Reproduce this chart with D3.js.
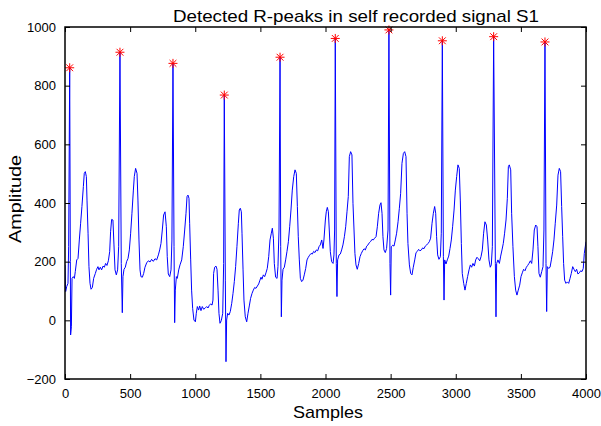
<!DOCTYPE html>
<html>
<head>
<meta charset="utf-8">
<script src="https://cdn.jsdelivr.net/npm/d3@7"></script>
<style>
  body { margin: 0; background: #fff; }
  text { font-family: "Liberation Sans", Arial, sans-serif; fill: #000; }
</style>
</head>
<body>
<svg id="chart" width="601" height="426"></svg>
<script>
// ECG trace, [sample, amplitude]
var signal = [
  [0,189],[5,98],[13,115],[23,126],[28,251],[36,861],[41,200],[43,-50],[49,-22],[54,143],
  [64,149],[72,143],[79,166],[90,206],[100,211],[110,274],[120,331],[130,388],[141,456],[148,501],
  [156,507],[164,490],[169,410],[177,297],[184,183],[192,126],[200,106],[210,112],[220,143],[233,160],
  [243,174],[253,183],[261,172],[271,181],[281,172],[292,185],[302,181],[312,194],[322,187],[333,203],
  [343,234],[350,302],[358,344],[368,342],[376,257],[384,172],[394,155],[404,172],[412,251],[422,914],
  [432,194],[440,26],[445,149],[453,174],[463,181],[473,200],[484,211],[494,240],[504,297],[514,365],
  [525,444],[532,490],[542,518],[553,501],[560,410],[568,274],[576,172],[583,149],[594,147],[604,160],
  [614,181],[627,196],[640,203],[653,199],[665,208],[678,201],[691,210],[704,206],[717,223],[727,240],
  [737,262],[747,308],[757,359],[768,370],[778,319],[785,217],[793,158],[804,149],[814,172],[821,274],
  [829,876],[837,251],[842,-8],[847,103],[855,149],[862,143],[873,172],[883,189],[896,206],[908,251],
  [919,308],[929,365],[937,422],[944,427],[952,416],[957,331],[965,206],[972,103],[980,41],[990,1],
  [1001,-5],[1008,24],[1016,47],[1026,35],[1034,49],[1044,33],[1054,47],[1064,38],[1075,41],[1088,47],
  [1098,42],[1108,51],[1118,56],[1129,52],[1136,69],[1141,160],[1149,181],[1159,185],[1167,174],[1175,103],
  [1182,24],[1190,-10],[1200,-1],[1211,24],[1218,194],[1223,768],[1231,137],[1236,-141],[1241,1],[1249,24],
  [1259,18],[1269,30],[1280,58],[1290,92],[1300,132],[1310,183],[1320,251],[1331,331],[1338,376],[1346,382],
  [1354,370],[1359,297],[1367,172],[1374,69],[1384,12],[1395,-5],[1405,24],[1415,49],[1425,75],[1436,92],
  [1446,103],[1456,112],[1466,109],[1477,117],[1487,124],[1497,137],[1505,147],[1512,140],[1523,155],[1533,149],
  [1543,162],[1553,177],[1564,217],[1574,274],[1584,297],[1592,314],[1600,280],[1607,194],[1617,147],[1628,143],
  [1635,183],[1643,308],[1651,897],[1656,251],[1661,12],[1666,137],[1674,174],[1684,181],[1694,206],[1704,234],
  [1715,268],[1725,319],[1735,376],[1745,444],[1756,490],[1766,513],[1776,501],[1784,388],[1791,285],[1799,206],
  [1807,143],[1817,132],[1827,137],[1837,155],[1848,177],[1858,206],[1868,215],[1878,222],[1889,228],[1899,226],
  [1909,235],[1919,231],[1930,240],[1940,237],[1950,251],[1960,257],[1971,274],[1981,245],[1988,274],[1999,342],
  [2006,370],[2014,385],[2022,370],[2029,308],[2037,234],[2047,200],[2058,194],[2065,223],[2070,308],[2075,961],
  [2083,194],[2088,81],[2093,206],[2104,223],[2114,226],[2124,240],[2134,257],[2145,285],[2155,319],[2165,370],
  [2175,422],[2183,558],[2193,575],[2203,564],[2211,399],[2219,308],[2226,228],[2234,189],[2244,174],[2255,194],
  [2265,217],[2275,228],[2285,237],[2296,244],[2306,240],[2316,253],[2326,257],[2337,265],[2347,269],[2357,276],
  [2367,274],[2377,280],[2388,285],[2398,319],[2408,365],[2418,393],[2426,401],[2434,365],[2441,285],[2449,240],
  [2459,231],[2469,245],[2480,308],[2487,990],[2495,194],[2500,86],[2505,251],[2516,256],[2526,253],[2536,274],
  [2546,297],[2557,336],[2567,382],[2577,433],[2587,535],[2598,569],[2608,575],[2618,558],[2626,365],[2633,262],
  [2644,189],[2654,160],[2664,155],[2674,181],[2685,206],[2695,231],[2705,235],[2715,242],[2725,237],[2736,240],
  [2746,247],[2756,244],[2766,253],[2777,257],[2787,262],[2797,268],[2807,280],[2818,331],[2828,365],[2838,388],
  [2846,365],[2853,285],[2861,223],[2871,208],[2882,217],[2889,297],[2897,953],[2905,217],[2910,69],[2915,206],
  [2925,192],[2935,206],[2946,219],[2956,245],[2966,274],[2976,319],[2987,376],[2997,444],[3007,490],[3017,530],
  [3027,518],[3035,410],[3043,262],[3050,160],[3061,126],[3071,103],[3081,126],[3091,149],[3102,172],[3112,189],
  [3122,181],[3132,194],[3143,185],[3153,206],[3163,215],[3173,210],[3184,203],[3194,217],[3204,240],[3214,297],
  [3224,336],[3235,325],[3245,274],[3255,206],[3265,181],[3273,189],[3281,251],[3291,967],[3304,194],[3309,12],
  [3314,194],[3324,206],[3335,194],[3345,219],[3355,240],[3365,262],[3375,297],[3386,342],[3396,416],[3404,524],
  [3411,530],[3422,513],[3429,365],[3439,251],[3450,149],[3460,103],[3470,86],[3480,103],[3491,120],[3501,149],
  [3511,162],[3521,174],[3532,169],[3542,181],[3552,187],[3562,194],[3573,203],[3583,194],[3593,240],[3603,308],
  [3614,325],[3624,319],[3631,251],[3639,160],[3649,147],[3660,166],[3670,183],[3677,308],[3685,949],[3693,194],
  [3698,30],[3703,183],[3713,177],[3724,181],[3734,206],[3744,234],[3754,274],[3764,331],[3775,393],[3785,495],
  [3795,518],[3805,507],[3813,388],[3821,285],[3828,194],[3836,137],[3846,126],[3857,131],[3867,126],[3877,142],
  [3887,160],[3898,183],[3908,174],[3918,166],[3928,174],[3938,158],[3949,162],[3959,169],[3969,166],[3979,177],
  [3987,228],[3995,253],[4000,268]
];

// detected R-peaks
var peakSamples = [36, 422, 829, 1223, 1651, 2075, 2487, 2897, 3291, 3685];
var peakValues  = [861, 914, 876, 768, 897, 961, 990, 953, 967, 949];

var xTicks = [0, 500, 1000, 1500, 2000, 2500, 3000, 3500, 4000];
var yTicks = [-200, 0, 200, 400, 600, 800, 1000];

var margin = {top: 27, right: 15, bottom: 47, left: 65};
var width = 601 - margin.left - margin.right,
    height = 426 - margin.top - margin.bottom;

var svg = d3.select("#chart");

var x = d3.scaleLinear().domain([0, 4000]).range([margin.left, margin.left + width]);
var y = d3.scaleLinear().domain([-200, 1000]).range([margin.top + height, margin.top]);

svg.append("clipPath").attr("id", "clip")
   .append("rect")
   .attr("x", margin.left).attr("y", margin.top - 6)
   .attr("width", width).attr("height", height + 6);

// signal
var valueline = d3.line()
                  .x(function(d) { return x(d[0]); })
                  .y(function(d) { return y(d[1]); });

svg.append("path")
   .datum(signal)
   .attr("clip-path", "url(#clip)")
   .attr("fill", "none")
   .attr("stroke", "#0000ff")
   .attr("stroke-width", 1)
   .attr("stroke-linejoin", "round")
   .attr("d", valueline);

// red asterisk markers
var r = 4.5, rd = 3.4;
var peaks = peakSamples.map(function(s, i) { return [s, peakValues[i]]; });
svg.selectAll(".peak")
   .data(peaks)
   .enter().append("path")
   .attr("class", "peak")
   .attr("transform", function(d) { return "translate(" + x(d[0]) + "," + y(d[1]) + ")"; })
   .attr("d", "M" + (-r) + ",0H" + r + "M0," + (-r) + "V" + r +
              "M" + (-rd) + "," + (-rd) + "L" + rd + "," + rd +
              "M" + (-rd) + "," + rd + "L" + rd + "," + (-rd))
   .attr("fill", "none")
   .attr("stroke", "#ff0000")
   .attr("stroke-width", 1);

// axes, ticks pointing inward on all four sides
function styleAxis(g) {
  g.select(".domain").remove();
  g.selectAll(".tick line").attr("stroke", "#000").attr("stroke-width", 1);
  g.selectAll(".tick text").style("font-size", "13px").style("font-family", "Liberation Sans, Arial, sans-serif");
}

var fmt = d3.format("d");

svg.append("g")
   .attr("transform", "translate(0," + (margin.top + height) + ")")
   .call(d3.axisBottom(x).tickValues(xTicks).tickFormat(fmt).tickSizeInner(-5).tickSizeOuter(0).tickPadding(10))
   .call(styleAxis);

svg.append("g")
   .attr("transform", "translate(0," + margin.top + ")")
   .call(d3.axisTop(x).tickValues(xTicks).tickSizeInner(-5).tickSizeOuter(0).tickFormat(""))
   .call(styleAxis);

svg.append("g")
   .attr("transform", "translate(" + margin.left + ",0)")
   .call(d3.axisLeft(y).tickValues(yTicks).tickFormat(fmt).tickSizeInner(-5).tickSizeOuter(0).tickPadding(9))
   .call(styleAxis);

svg.append("g")
   .attr("transform", "translate(" + (margin.left + width) + ",0)")
   .call(d3.axisRight(y).tickValues(yTicks).tickSizeInner(-5).tickSizeOuter(0).tickFormat(""))
   .call(styleAxis);

// frame
svg.append("rect")
   .attr("x", margin.left).attr("y", margin.top)
   .attr("width", width).attr("height", height)
   .attr("fill", "none")
   .attr("stroke", "#000")
   .attr("stroke-width", 1.5);

// title and labels
svg.append("text")
   .attr("x", 356).attr("y", 22)
   .attr("text-anchor", "middle")
   .attr("textLength", 366)
   .attr("lengthAdjust", "spacingAndGlyphs")
   .style("font-size", "17px")
   .text("Detected R-peaks in self recorded signal S1");

svg.append("text")
   .attr("x", 328).attr("y", 418)
   .attr("text-anchor", "middle")
   .attr("textLength", 70)
   .attr("lengthAdjust", "spacingAndGlyphs")
   .style("font-size", "17px")
   .text("Samples");

svg.append("text")
   .attr("transform", "translate(21," + 199 + ") rotate(-90)")
   .attr("text-anchor", "middle")
   .attr("textLength", 88)
   .attr("lengthAdjust", "spacingAndGlyphs")
   .style("font-size", "17px")
   .text("Amplitude");
</script>
</body>
</html>
